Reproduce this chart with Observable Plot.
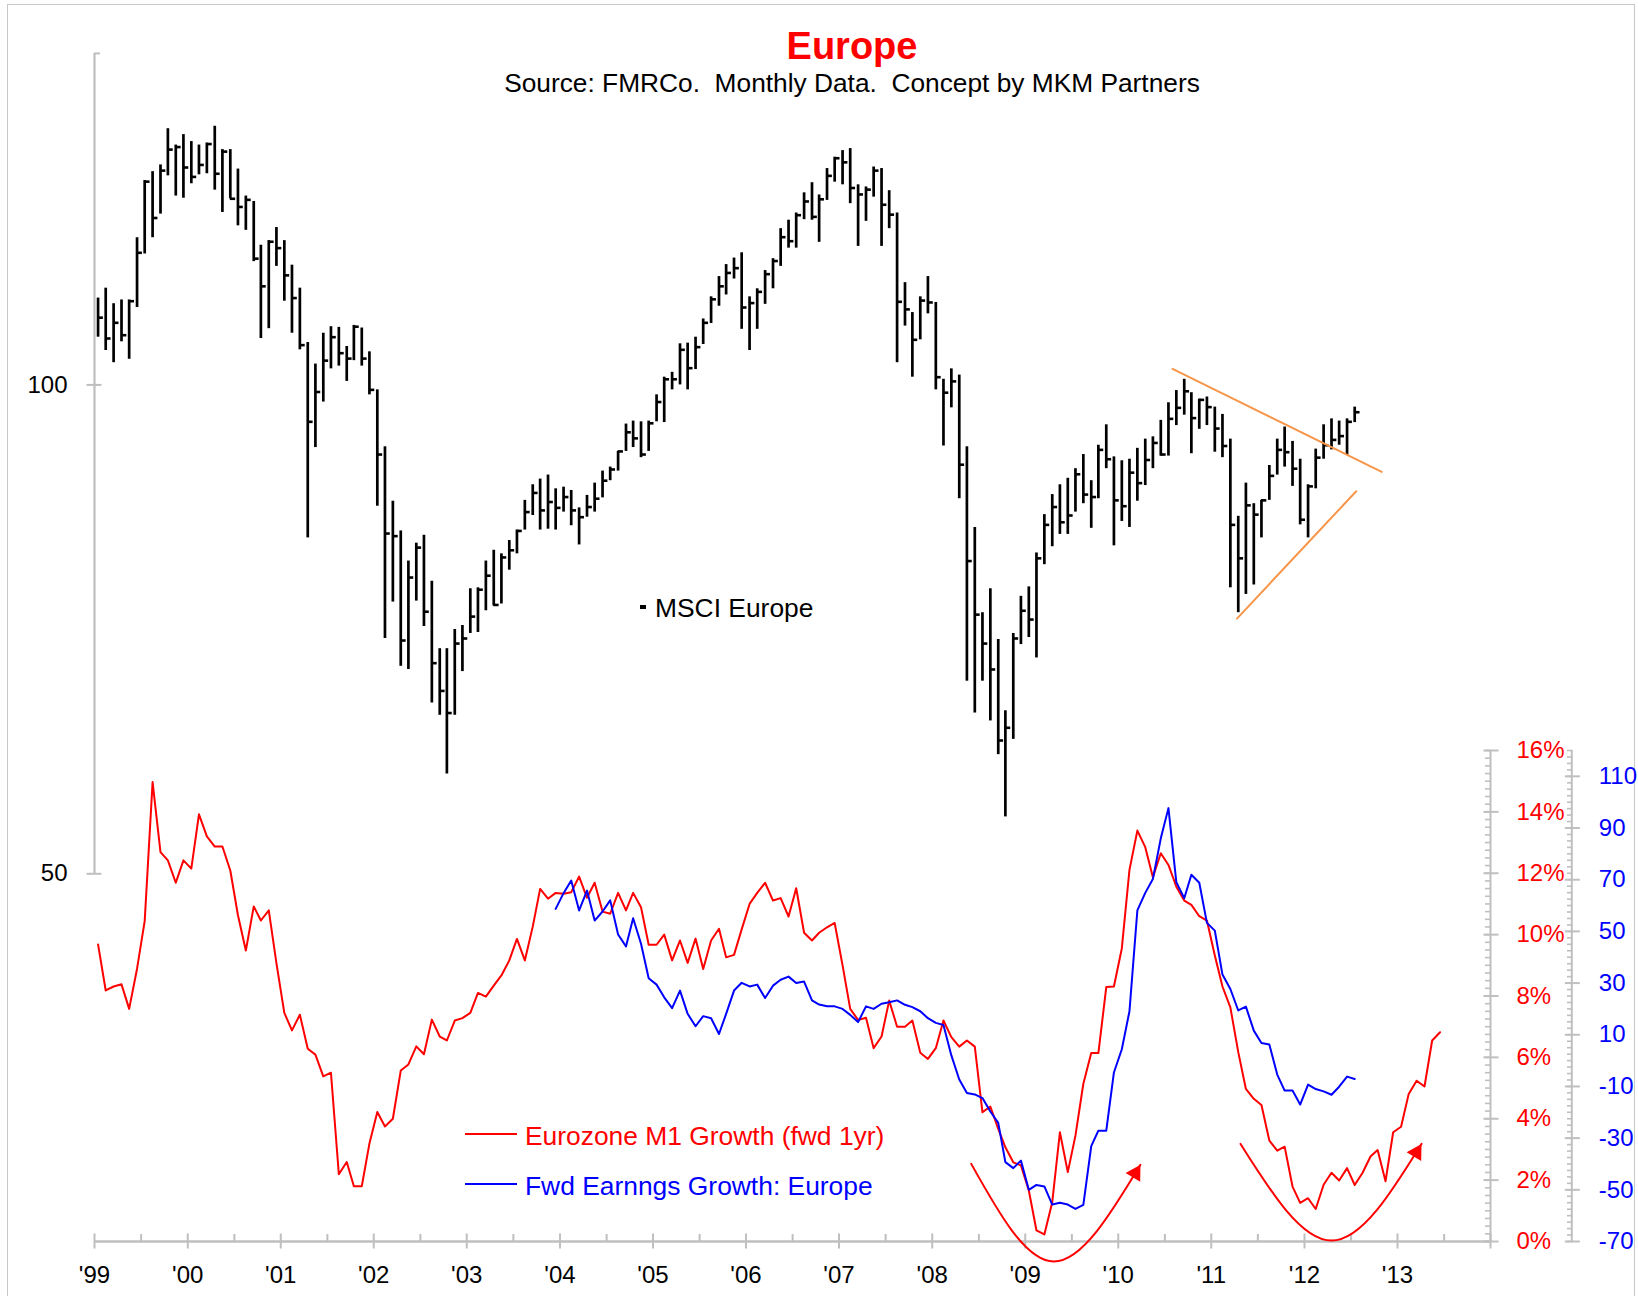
<!DOCTYPE html>
<html><head><meta charset="utf-8">
<script src="https://cdn.jsdelivr.net/npm/d3@7"></script>
<script src="https://cdn.jsdelivr.net/npm/@observablehq/plot@0.6"></script>
<style>
body{margin:0;background:#fff;}
#wrap{position:relative;width:1638px;height:1296px;overflow:hidden;background:#fff;font-family:"Liberation Sans",Arial,Helvetica,sans-serif;}
#layers svg{position:absolute;left:0;top:0;}
.t{position:absolute;white-space:pre;line-height:1;}
</style></head><body>
<div id="wrap">
<div style="position:absolute;left:7px;top:4px;width:1628px;height:1320px;border:1.5px solid #c8c8c8;box-sizing:border-box"></div>
<div id="layers"></div>
<div class="t" style="left:852px;top:27px;transform:translateX(-50%);font-size:38px;font-weight:bold;color:#ff0000">Europe</div>
<div class="t" style="left:852px;top:70px;transform:translateX(-50%);font-size:26.3px;color:#000">Source: FMRCo.  Monthly Data.  Concept by MKM Partners</div>
<div style="position:absolute;left:640px;top:605px;width:5.5px;height:4px;background:#000"></div>
<div class="t" style="left:655px;top:595px;font-size:26.4px;color:#000">MSCI Europe</div>
<div style="position:absolute;left:465px;top:1133px;width:52px;height:2px;background:#ff0000"></div>
<div class="t" style="left:525px;top:1122.6px;font-size:26.4px;color:#ff0000">Eurozone M1 Growth (fwd 1yr)</div>
<div style="position:absolute;left:465px;top:1183px;width:52px;height:2px;background:#0000ff"></div>
<div class="t" style="left:525px;top:1172.6px;font-size:26.4px;color:#0000ff">Fwd Earnngs Growth: Europe</div>
</div>
<script>
// ---------- DATA ----------
const barStart = "1999-06-15"; // first monthly bar
const high = [113.1,114.7,112.2,112.8,112.8,123.2,133.6,135.3,136.6,143.8,140.5,142.6,141.2,140.5,140.9,144.3,139.6,139.6,135.8,130.7,129.7,121.9,122.7,125.0,122.7,118.5,114.7,106.2,103.0,107.6,108.6,108.5,105.6,108.8,108.4,104.8,99.3,91.6,84.8,81.3,77.9,79.9,80.8,75.7,68.8,68.8,70.7,71.1,74.9,75.0,77.9,79.1,78.7,80.2,81.4,84.9,86.8,87.5,88.0,86.3,86.5,86.1,84.0,85.5,87.0,88.5,89.0,91.0,94.6,95.0,94.9,95.0,98.6,101.1,101.8,106.0,106.1,107.0,109.8,113.3,116.6,118.6,119.7,120.6,113.3,114.6,117.6,119.6,124.8,126.3,127.6,131.3,133.2,130.9,135.9,138.1,139.4,139.8,132.8,132.4,136.2,135.9,131.7,127.6,115.6,110.8,113.3,116.6,112.4,100.8,102.3,101.4,91.6,81.7,72.4,74.9,69.7,63.0,70.3,74.1,75.1,78.8,83.2,85.6,86.8,87.6,88.8,90.6,87.3,91.8,94.5,90.3,89.8,90.0,91.4,92.6,92.9,95.1,97.5,99.2,100.8,98.9,98.0,98.3,96.9,95.9,92.6,83.0,87.0,84.5,84.9,89.2,92.6,94.2,92.3,90.0,86.8,91.3,94.5,95.3,95.0,95.3,96.9];
const low = [107.0,105.0,103.2,106.3,103.7,111.6,120.4,123.2,127.4,134.5,130.7,130.3,133.0,134.7,134.9,131.8,127.7,130.2,125.3,124.5,119.1,106.8,108.3,118.3,112.6,107.6,105.1,80.5,91.5,97.6,102.3,102.7,100.5,103.5,102.7,98.6,84.2,69.8,73.5,67.1,66.8,73.6,71.0,63.7,62.6,57.6,62.6,66.6,70.3,70.4,72.6,73.1,73.3,76.9,78.7,81.4,83.1,81.4,81.5,81.4,83.5,81.9,79.7,82.9,83.5,85.2,87.3,88.5,91.0,91.5,90.2,91.0,94.9,94.8,99.3,100.0,99.3,102.2,105.9,109.1,111.8,113.6,116.2,108.2,105.0,108.2,112.1,114.6,118.3,121.4,121.4,126.4,126.3,122.4,129.9,133.3,132.8,129.3,121.7,126.1,130.5,121.7,124.8,103.2,108.7,101.1,106.6,110.6,99.3,91.7,96.8,85.1,65.7,62.8,65.7,62.1,59.2,54.2,60.5,69.2,69.9,67.9,77.5,79.5,80.9,80.9,83.5,84.5,81.6,85.1,88.8,79.6,82.4,81.7,84.8,86.7,88.8,90.4,90.4,94.4,95.8,90.7,93.9,94.4,90.9,90.2,75.0,72.4,74.3,75.3,80.5,84.9,88.0,89.0,86.6,82.0,80.5,86.3,90.0,91.2,91.8,90.5,94.8];
const close = [110.0,106.8,109.2,107.3,112.6,120.6,133.4,126.7,135.5,139.6,140.1,136.1,134.3,136.6,140.7,134.9,139.2,130.2,128.7,130.0,119.6,115.0,122.5,121.4,116.8,113.1,105.8,94.9,99.0,103.5,107.0,104.6,103.8,108.6,103.8,99.3,90.6,81.0,80.7,69.6,76.1,79.4,72.5,67.4,64.8,62.8,69.3,69.8,72.0,74.8,76.3,73.2,78.3,79.1,81.3,83.5,85.8,83.7,84.7,84.0,85.3,83.7,82.9,84.1,85.1,87.3,88.7,91.0,93.5,92.7,90.6,94.7,97.6,100.8,100.8,105.1,102.4,105.5,109.2,112.9,115.0,117.2,118.0,111.6,112.3,114.1,117.0,119.2,123.3,122.6,127.2,129.7,126.9,130.1,134.5,137.9,137.1,132.2,131.0,131.9,135.5,129.1,127.3,112.5,111.3,106.6,112.7,112.4,101.1,98.9,100.5,89.3,77.9,72.2,69.3,66.8,60.4,61.5,69.8,72.6,71.7,78.2,82.0,84.1,82.3,83.1,88.1,85.6,85.3,91.2,90.0,84.9,84.2,88.3,87.0,89.9,92.1,90.6,95.3,96.8,99.1,95.4,97.9,96.9,94.0,91.7,82.0,78.2,84.3,83.2,84.9,87.9,91.2,90.9,88.8,82.6,86.6,90.2,91.8,92.5,93.0,94.9,96.2];

const m1Start = "1999-06-15"; // Eurozone M1 growth, shifted forward 1 yr (%)
const m1Growth = [9.68,8.18,8.31,8.38,7.58,8.89,10.44,14.97,12.69,12.42,11.69,12.42,12.15,13.92,13.20,12.87,12.87,12.09,10.63,9.48,10.92,10.46,10.79,9.07,7.45,6.88,7.39,6.28,6.09,5.38,5.50,2.19,2.59,1.80,1.80,3.19,4.22,3.75,4.00,5.57,5.77,6.36,6.10,7.23,6.68,6.55,7.20,7.28,7.45,8.10,7.98,8.34,8.67,9.16,9.86,9.16,10.26,11.49,11.17,11.36,11.33,11.38,11.89,11.20,11.69,10.75,10.68,11.36,10.79,11.36,10.89,9.67,9.67,10.00,9.16,9.81,9.08,9.87,8.88,9.81,10.19,9.26,9.34,10.17,11.00,11.36,11.69,11.11,11.19,10.59,11.51,10.06,9.81,10.06,10.24,10.38,9.00,7.58,7.22,7.29,6.30,6.68,7.85,7.00,7.00,7.20,6.15,5.95,6.30,7.20,6.66,6.35,6.55,6.35,4.21,4.40,3.67,3.07,2.58,2.48,1.66,0.36,0.23,1.28,3.56,2.26,3.45,5.14,6.14,6.14,8.29,8.31,9.55,12.11,13.39,12.85,11.87,12.65,12.27,11.56,11.11,10.97,10.60,10.46,9.32,8.31,7.63,6.17,4.97,4.65,4.45,3.29,2.96,3.09,1.79,1.26,1.41,1.06,1.85,2.24,1.99,2.39,1.84,2.24,2.77,2.98,1.96,3.56,3.74,4.81,5.24,5.05,6.55,6.82];

const epsStart = "2004-05-15"; // forward earnings growth, Europe
const fwdEps = [58.7,64.8,69.7,58.1,65.8,54.2,57.7,62.0,48.8,44.2,55.1,45.2,31.9,29.4,24.5,20.3,27.1,18.1,13.3,17.2,16.4,10.3,18.1,27.1,30.1,28.7,29.4,24.2,29.0,31.3,32.5,30.0,30.6,23.3,21.7,21.0,21.0,20.0,17.7,14.9,21.0,20.0,22.0,22.6,23.3,21.6,20.7,19.1,16.4,14.6,13.8,2.0,-7.3,-12.5,-13.1,-14.5,-19.7,-24.1,-39.3,-41.6,-38.7,-50.0,-48.1,-48.7,-55.7,-55.0,-55.7,-57.4,-55.8,-33.1,-27.1,-27.1,-4.6,4.4,19.1,58.1,64.9,70.3,86.0,97.7,69.0,62.8,71.9,68.8,53.3,50.3,33.3,27.7,19.4,20.9,11.6,6.8,6.2,-5.4,-11.6,-11.6,-17.0,-9.3,-11.0,-11.9,-13.2,-10.1,-6.2,-7.1];

// triangle trend lines on the index
const trendUpper = [{date: "2010-12-31", value: 102.3}, {date: "2013-03-31", value: 88.4}];
const trendLower = [{date: "2011-09-10", value: 71.8}, {date: "2012-12-21", value: 86.0}];
// red "U" arrows drawn on the M1 scale
const arc1 = [{date: "2008-11-01", pct: 2.53}, {date: "2009-09-21", pct: -0.65}, {date: "2010-08-27", pct: 2.50}];
const arc2 = [{date: "2011-09-24", pct: 3.18}, {date: "2012-09-15", pct: 0.03}, {date: "2013-09-03", pct: 3.18}];

const xStart = "1999-06-01", xEnd = "2014-06-01";
const yearLabels = d3.range(1999, 2014);
const priceTicks = [50, 100];
const pctTicks = d3.range(0, 16.001, 2);
const epsTicks = d3.range(-70, 110.001, 20);

// ---------- BUILD ----------
const W = 1638, H = 1296;
const FONT = '"Liberation Sans", Arial, Helvetica, sans-serif';
const GREY = "#bfbfbf", RED = "#ff0000", BLUE = "#0000ff", ORANGE = "#f7964a";
const toDate = s => new Date(s);
const monthSeq = (start, n) => d3.range(n).map(i => d3.utcMonth.offset(new Date(start), i));

const bars = monthSeq(barStart, high.length).map((date, i) => ({
  date, high: high[i], low: low[i], close: close[i], tickEnd: d3.utcDay.offset(date, 21)
}));
const m1 = monthSeq(m1Start, m1Growth.length).map((date, i) => ({date, pct: m1Growth[i]}));
const eps = monthSeq(epsStart, fwdEps.length).map((date, i) => ({date, v: fwdEps[i]}));
const tU = trendUpper.map(d => ({date: toDate(d.date), value: d.value}));
const tL = trendLower.map(d => ({date: toDate(d.date), value: d.value}));
const a1 = arc1.map(d => ({date: toDate(d.date), pct: d.pct}));
const a2 = arc2.map(d => ({date: toDate(d.date), pct: d.pct}));
const tips = [a1[2], a2[2]];

const xDomain = [toDate(xStart), toDate(xEnd)];
const majorX = d3.range(1999, 2015).map(y => new Date(Date.UTC(y, 5, 1)));
const minorX = d3.range(1999, 2014).map(y => new Date(Date.UTC(y, 11, 1)));
const labelX = yearLabels.map(y => new Date(Date.UTC(y, 5, 1)));

const common = {
  width: W, height: H, marginLeft: 94, marginRight: 148,
  style: {background: "transparent", fontFamily: FONT, fontSize: "24px", color: "#000"}
};
const blank = () => "";
const host = document.getElementById("layers");

// Layer A: MSCI Europe high-low-close bars, log scale
host.appendChild(Plot.plot({
  ...common, marginTop: 52.9, marginBottom: H - 873.3,
  x: {type: "utc", domain: xDomain, axis: null},
  y: {type: "log", domain: [50, 160]},
  marks: [
    Plot.ruleX([xDomain[0]], {y1: 50, y2: 160, stroke: GREY, strokeWidth: 2.2}),
    Plot.axisY({ticks: priceTicks, tickSize: 15, dx: 7.5, tickFormat: blank, stroke: GREY, strokeWidth: 2, label: null}),
    Plot.axisY({ticks: [160], tickSize: 6, dx: 6, tickFormat: blank, stroke: GREY, strokeWidth: 2, label: null}),
    Plot.axisY({ticks: priceTicks, tickSize: 0, tickPadding: 27, tickFormat: d => String(d), fill: "#000", label: null}),
    Plot.ruleX(bars, {x: "date", y1: "low", y2: "high", stroke: "#000", strokeWidth: 2.7}),
    Plot.ruleY(bars, {y: "close", x1: "date", x2: "tickEnd", stroke: "#000", strokeWidth: 2.6}),
    Plot.line(tU, {x: "date", y: "value", stroke: ORANGE, strokeWidth: 2}),
    Plot.line(tL, {x: "date", y: "value", stroke: ORANGE, strokeWidth: 2})
  ]
}));

// Layer B: Eurozone M1 growth (%), time axis, arrows
host.appendChild(Plot.plot({
  ...common, marginTop: 750, marginBottom: H - 1241,
  x: {type: "utc", domain: xDomain},
  y: {domain: [0, 16]},
  marks: [
    Plot.ruleY([0], {stroke: GREY, strokeWidth: 2.3}),
    Plot.axisX({ticks: majorX, tickSize: 15, dy: -7.5, tickFormat: blank, stroke: GREY, strokeWidth: 2, label: null}),
    Plot.axisX({ticks: minorX, tickSize: 7, dy: -7, tickFormat: blank, stroke: GREY, strokeWidth: 2, label: null}),
    Plot.axisX({ticks: labelX, tickSize: 0, tickPadding: 24, tickFormat: d => "'" + String(d.getUTCFullYear()).slice(2), fill: "#000", label: null}),
    Plot.ruleX([xDomain[1]], {y1: 0, y2: 16, stroke: GREY, strokeWidth: 2}),
    Plot.axisY({anchor: "right", ticks: d3.range(0, 16.001, 0.25), tickSize: 6, dx: -6, tickFormat: blank, stroke: GREY, strokeWidth: 1.6, label: null}),
    Plot.axisY({anchor: "right", ticks: pctTicks, tickSize: 15, dx: -7.5, tickFormat: blank, stroke: GREY, strokeWidth: 2, label: null}),
    Plot.axisY({anchor: "right", ticks: pctTicks, tickSize: 0, tickPadding: 26, tickFormat: d => d + "%", fill: RED, label: null}),
    Plot.line(m1, {x: "date", y: "pct", stroke: RED, strokeWidth: 2}),
    Plot.line(a1, {x: "date", y: "pct", curve: "natural", stroke: RED, strokeWidth: 2}),
    Plot.line(a2, {x: "date", y: "pct", curve: "natural", stroke: RED, strokeWidth: 2}),
    Plot.dot(tips, {x: "date", y: "pct", symbol: "triangle", r: 6.3, fill: RED, stroke: "none", rotate: 31, dx: -5, dy: 8.4})
  ]
}));

// Layer C: forward earnings growth, outer right axis
const dxB = 81.3;
host.appendChild(Plot.plot({
  ...common, marginTop: 750, marginBottom: H - 1241,
  x: {type: "utc", domain: xDomain, axis: null},
  y: {domain: [-70, 120]},
  marks: [
    Plot.ruleX([xDomain[1]], {y1: -70, y2: 120, dx: dxB, stroke: GREY, strokeWidth: 2}),
    Plot.axisY({anchor: "right", ticks: d3.range(-70, 120.001, 2.5), tickSize: 5.3, dx: dxB - 5.3, tickFormat: blank, stroke: GREY, strokeWidth: 1.6, label: null}),
    Plot.axisY({anchor: "right", ticks: epsTicks, tickSize: 15, dx: dxB - 7.5, tickFormat: blank, stroke: GREY, strokeWidth: 2, label: null}),
    Plot.axisY({anchor: "right", ticks: epsTicks, tickSize: 0, tickPadding: 27, dx: dxB, tickFormat: d => String(d), fill: BLUE, label: null}),
    Plot.line(eps, {x: "date", y: "v", stroke: BLUE, strokeWidth: 2})
  ]
}));
</script>
</body></html>
